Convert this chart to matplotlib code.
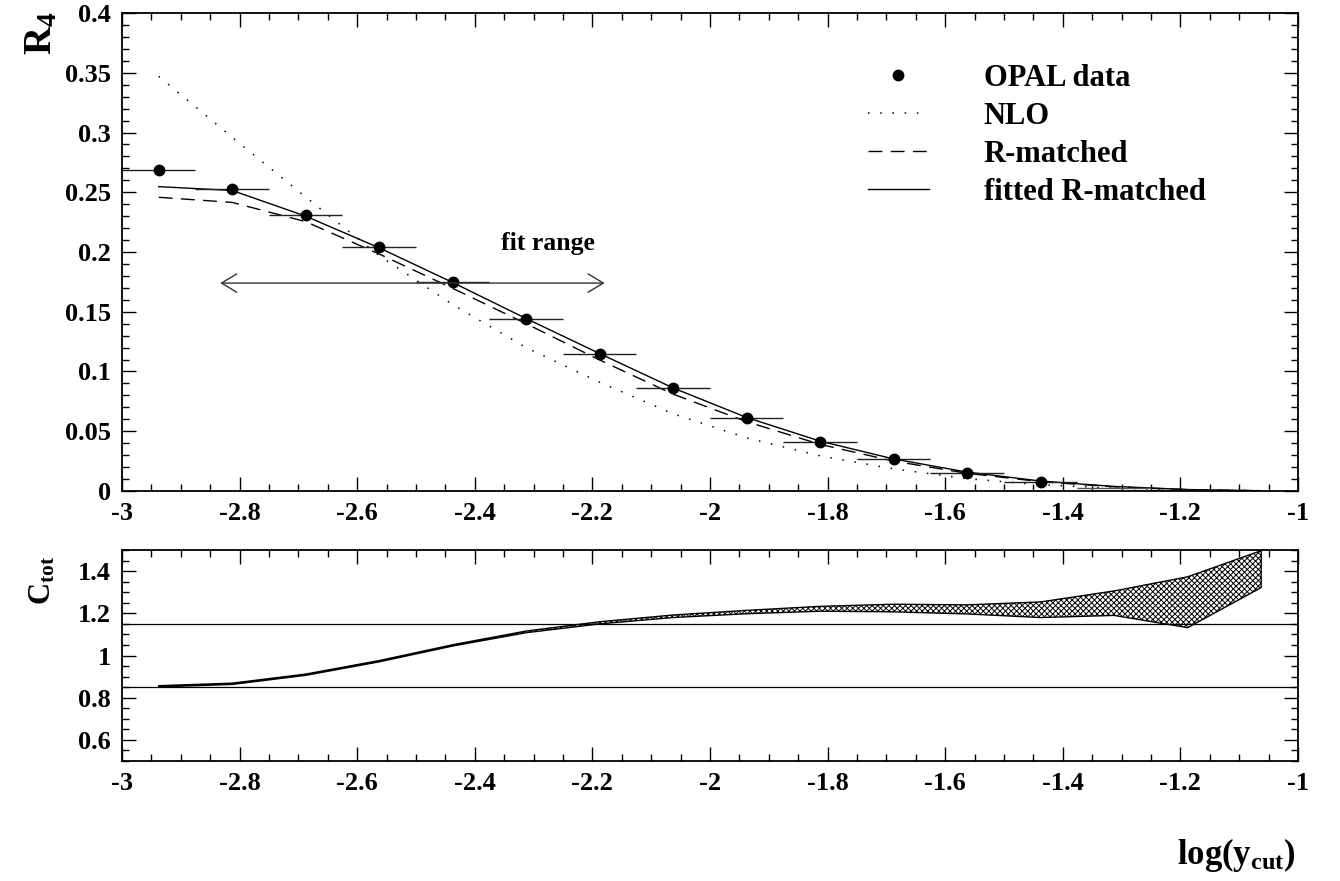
import matplotlib
matplotlib.use('Agg')
import matplotlib.pyplot as plt
from matplotlib.lines import Line2D
from matplotlib.ticker import MultipleLocator, FuncFormatter

plt.rcParams['font.family'] = ['Liberation Serif', 'DejaVu Serif']
plt.rcParams['font.weight'] = 'bold'
plt.rcParams['mathtext.fontset'] = 'custom'
plt.rcParams['mathtext.rm'] = 'Liberation Serif:bold'
plt.rcParams['mathtext.it'] = 'Liberation Serif:bold'
plt.rcParams['mathtext.bf'] = 'Liberation Serif:bold'
plt.rcParams['axes.unicode_minus'] = False

# bin centres in log(y_cut)
x_nodes = [-2.9375, -2.8125, -2.6875, -2.5625, -2.4375, -2.3125, -2.1875, -2.0625,
           -1.9375, -1.8125, -1.6875, -1.5625, -1.4375, -1.3125, -1.1875, -1.0625]

# OPAL data (points drawn with marker)
opal_x = [-2.9375, -2.8125, -2.6875, -2.5625, -2.4375, -2.3125, -2.1875, -2.0625,
          -1.9375, -1.8125, -1.6875, -1.5625, -1.4375]
opal_r4 = [0.269, 0.253, 0.231, 0.204, 0.175, 0.144, 0.115, 0.086,
           0.061, 0.041, 0.027, 0.015, 0.0075]
# tail bins, only the bin bars are visible
tail_x = [-1.3125, -1.1875]
tail_r4 = [0.0025, 0.001]
bin_half = 0.0625

nlo = [0.347, 0.296, 0.246, 0.197, 0.156, 0.120, 0.091, 0.0646,
       0.0444, 0.0294, 0.0185, 0.0103, 0.0052, 0.0024, 0.0010, 0.0003]
r_matched = [0.2458, 0.2415, 0.2254, 0.1983, 0.1696, 0.1400, 0.1096, 0.0810,
             0.0580, 0.0390, 0.0250, 0.0148, 0.0078, 0.0035, 0.0011, 0.0002]
fitted = [0.2547, 0.2515, 0.2300, 0.2035, 0.1745, 0.1443, 0.1150, 0.0862,
          0.0615, 0.0417, 0.0268, 0.0158, 0.0083, 0.0038, 0.0012, 0.0002]

# C_tot band
ctot_low = [0.851, 0.863, 0.906, 0.970, 1.045, 1.108, 1.150, 1.180,
            1.198, 1.210, 1.207, 1.197, 1.180, 1.190, 1.132, 1.322]
ctot_high = [0.857, 0.869, 0.912, 0.976, 1.051, 1.116, 1.160, 1.192,
             1.214, 1.233, 1.243, 1.240, 1.254, 1.306, 1.373, 1.497]
ctot_lines = [0.85, 1.15]

fit_lo, fit_hi, fit_y = -2.833, -2.179, 0.174
fit_label_x, fit_label_y = -2.275, 0.2075

fig = plt.figure(figsize=(13.4, 8.81), dpi=100)
ax1 = fig.add_axes([0.0910, 0.4427, 0.8776, 0.5425])
ax2 = fig.add_axes([0.0910, 0.1362, 0.8776, 0.2395])

fmt = FuncFormatter(lambda v, p: '%g' % round(v, 4))


def style_axis(ax):
    ax.set_xlim(-3, -1)
    ax.xaxis.set_major_locator(MultipleLocator(0.2))
    ax.xaxis.set_minor_locator(MultipleLocator(0.05))
    ax.xaxis.set_major_formatter(fmt)
    ax.yaxis.set_major_formatter(fmt)
    ax.tick_params(which='both', direction='in', top=True, right=True,
                   labelsize=19, width=1)
    ax.tick_params(which='major', length=10, pad=8)
    ax.tick_params(which='minor', length=5)
    for s in ax.spines.values():
        s.set_linewidth(1.3)


# top panel
style_axis(ax1)
ax1.set_ylim(0, 0.4)
ax1.yaxis.set_major_locator(MultipleLocator(0.05))
ax1.yaxis.set_minor_locator(MultipleLocator(0.01))

ax1.plot(x_nodes, nlo, color='black', lw=1.1, ls=(0, (1, 7)))
ax1.plot(x_nodes, r_matched, color='black', lw=1.0, ls=(0, (10, 6)))
ax1.plot(x_nodes, fitted, color='black', lw=1.0)
ax1.errorbar(opal_x, opal_r4, xerr=bin_half, fmt='o', color='black',
             ms=7.5, elinewidth=1.0, ecolor='#222222', capsize=0)
ax1.errorbar(tail_x, tail_r4, xerr=bin_half, fmt='none', ecolor='#555555',
             elinewidth=1.0, capsize=0)

ax1.annotate('', xy=(fit_lo, fit_y), xytext=(fit_hi, fit_y),
             arrowprops=dict(arrowstyle='<->,head_length=0.55,head_width=0.33',
                             lw=1.0, color='#333333', mutation_scale=20,
                             shrinkA=0, shrinkB=0))
ax1.text(fit_label_x, fit_label_y, 'fit range', fontsize=18.5,
         ha='center', va='center')

handles = [Line2D([], [], marker='o', ls='none', color='black', ms=7.5),
           Line2D([], [], color='black', lw=1.1, ls=(0, (1, 7))),
           Line2D([], [], color='black', lw=1.0, ls=(0, (10, 6))),
           Line2D([], [], color='black', lw=1.0)]
labels = ['OPAL data', 'NLO', 'R-matched', 'fitted R-matched']
ax1.legend(handles, labels, loc='upper left', bbox_to_anchor=(0.634, 0.893),
           frameon=False, fontsize=22, handlelength=2.0, handletextpad=1.8,
           labelspacing=0.29, borderpad=0, borderaxespad=0, numpoints=1)

# bottom panel
style_axis(ax2)
ax2.set_ylim(0.5, 1.5)
ax2.yaxis.set_major_locator(MultipleLocator(0.2))
ax2.yaxis.set_minor_locator(MultipleLocator(0.05))
for c in ctot_lines:
    ax2.axhline(c, color='black', lw=0.9)
plt.rcParams['hatch.linewidth'] = 0.7
ax2.fill_between(x_nodes, ctot_low, ctot_high, facecolor='white',
                 edgecolor='black', hatch='xxxxxx', lw=1.0)

fig.text(0.031, 0.962, r'$\mathrm{R_4}$', rotation=90, fontsize=28,
         ha='center', va='center')
fig.text(0.032, 0.341, r'$\mathrm{C_{tot}}$', rotation=90, fontsize=22,
         ha='center', va='center')
fig.text(0.923, 0.03, r'$\mathrm{log(y_{cut})}$', fontsize=25,
         ha='center', va='center')

fig.savefig('out.png', dpi=100)
